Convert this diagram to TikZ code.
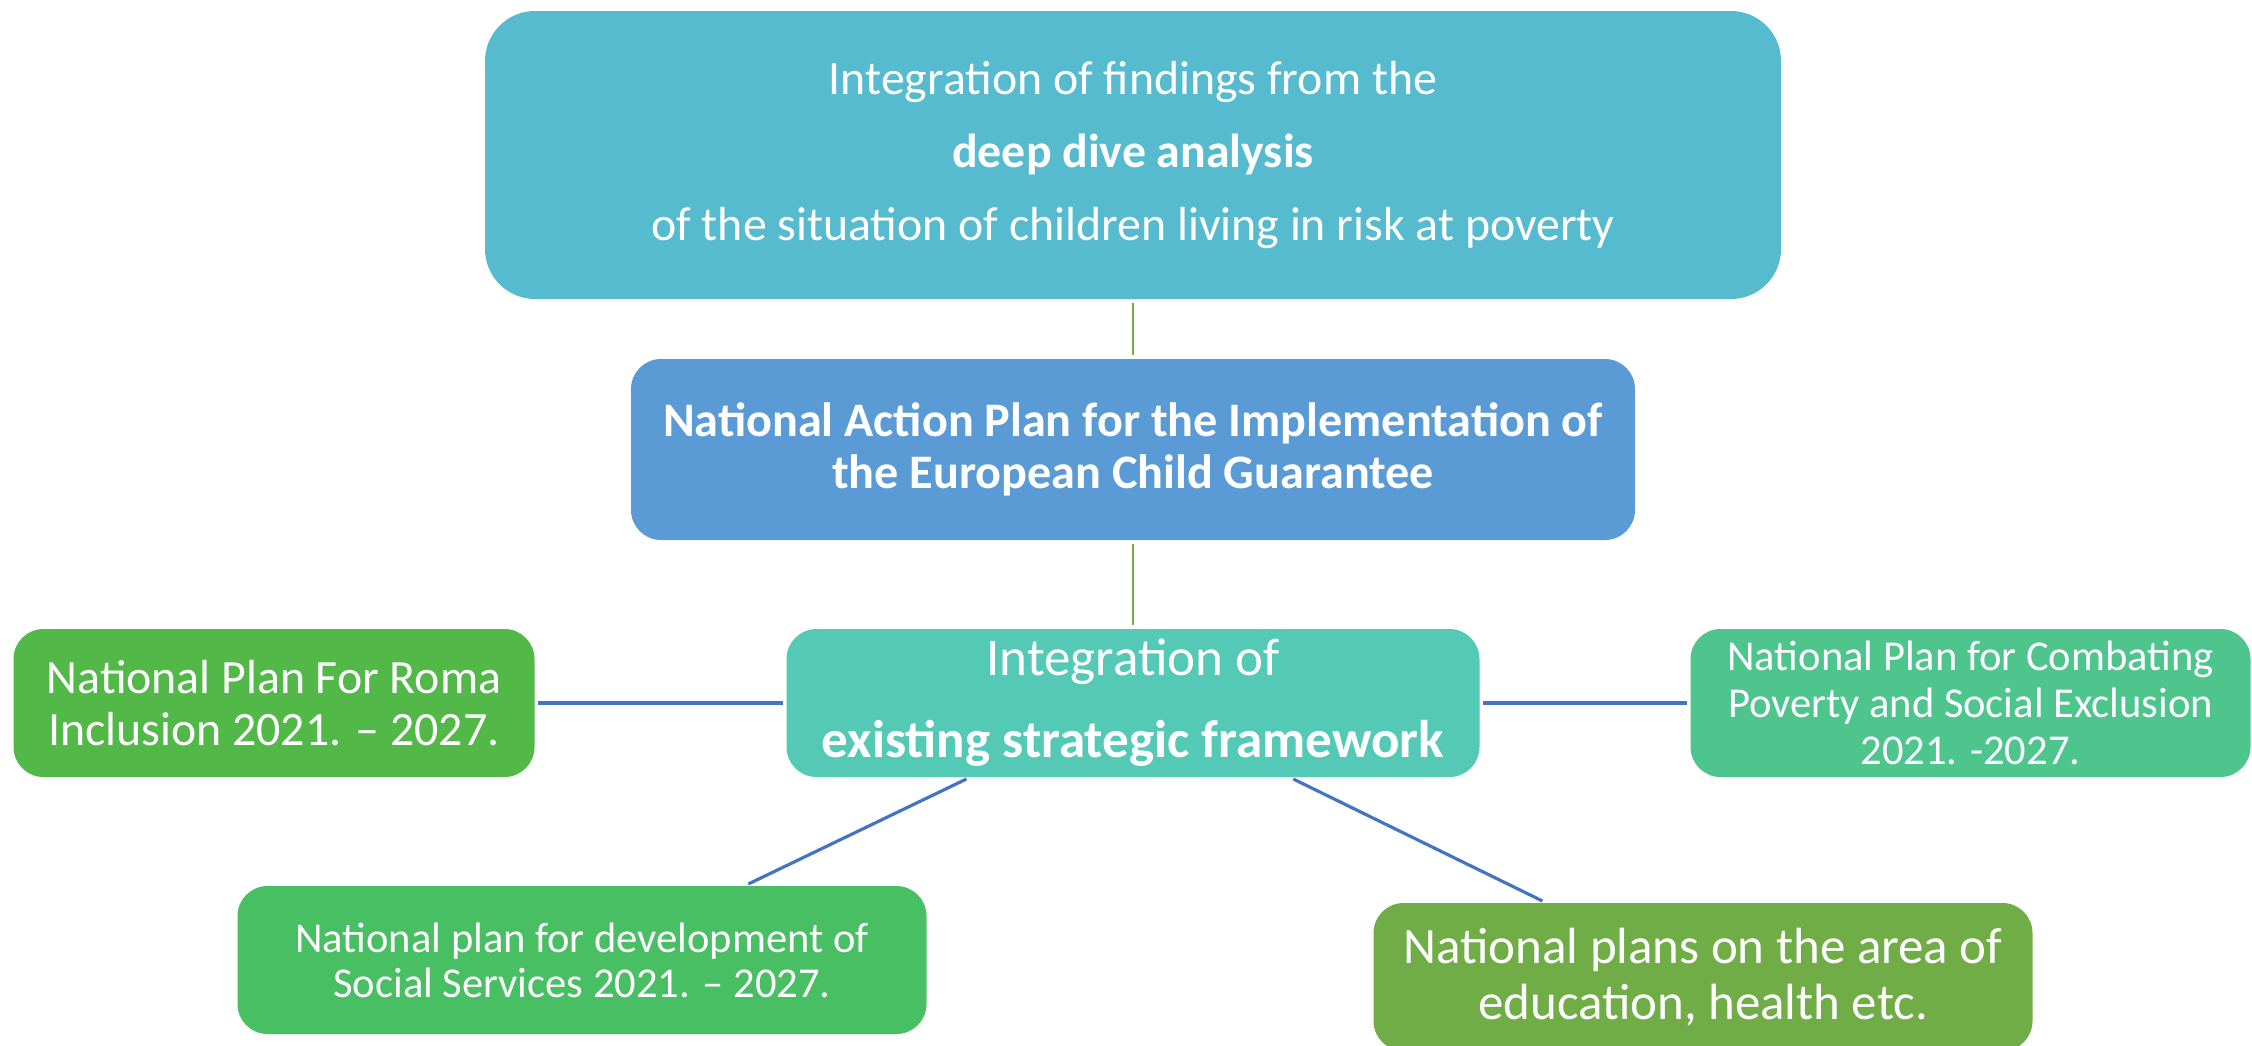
\documentclass[tikz,border=0pt]{standalone}
\usepackage{fontspec}
\setmainfont{Carlito}
\usepackage{tikz}
\usetikzlibrary{calc}
\definecolor{findings-blue}{RGB}{87,187,208}
\definecolor{plan-blue}{RGB}{91,155,213}
\definecolor{frame-teal}{RGB}{83,201,182}
\definecolor{roma-green}{RGB}{82,184,72}
\definecolor{poverty-green}{RGB}{79,197,142}
\definecolor{services-green}{RGB}{73,191,100}
\definecolor{sector-green}{RGB}{112,173,71}
\definecolor{link-green}{RGB}{112,173,71}
\definecolor{link-blue}{RGB}{68,114,196}
\tikzstyle{boxNode}=[rounded corners=0.3cm, text=white, align=center, inner sep=0pt, minimum height=1.48cm]
\tikzstyle{greenLink}=[draw=link-green, line width=0.6pt, shorten <=0.03cm, shorten >=0.03cm]
\tikzstyle{blueLink}=[draw=link-blue, line width=0.9pt, shorten <=0.03cm, shorten >=0.03cm]

\begin{document}
\begin{tikzpicture}
\useasboundingbox (0,0) rectangle (22.52,-10.45);
\node (findings) at (11.33,-1.55) [boxNode, fill=findings-blue, minimum width=12.96cm, minimum height=2.88cm, rounded corners=0.5cm, font=\fontsize{13.6}{20.8}\selectfont] {Integration of findings from the\\ {\bfseries deep dive analysis}\\ of the situation of children living in risk at poverty};
\path (findings)+(0,-2.945) node (actionPlan) [boxNode, fill=plan-blue, minimum width=10.04cm, minimum height=1.81cm, font=\bfseries\fontsize{13.7}{14.9}\selectfont] {National Action Plan for the Implementation of\\ the European Child Guarantee};
\path (actionPlan)+(0,-2.535) node (framework) [boxNode, fill=frame-teal, minimum width=6.93cm, font=\fontsize{15.1}{23.3}\selectfont] {Integration of\\ {\bfseries existing strategic framework}};
\path (framework)+(-8.59,0) node (romaPlan) [boxNode, fill=roma-green, minimum width=5.21cm, font=\fontsize{13.6}{15.0}\selectfont] {National Plan For Roma\\ Inclusion 2021. -- 2027.};
\path (framework)+(8.375,0) node (povertyPlan) [boxNode, fill=poverty-green, minimum width=5.60cm, font=\fontsize{12.1}{13.4}\selectfont] {National Plan for Combating\\ Poverty and Social Exclusion\\ 2021. -2027.};
\path (framework)+(-5.51,-2.57) node (servicesPlan) [boxNode, fill=services-green, minimum width=6.89cm, font=\fontsize{12.1}{12.8}\selectfont] {National plan for development of\\ Social Services 2021. -- 2027.};
\path (framework)+(5.70,-2.74) node (sectorPlans) [boxNode, fill=sector-green, minimum width=6.59cm, font=\fontsize{14.5}{15.8}\selectfont] {National plans on the area of\\ education, health etc.};
\draw[greenLink] (findings) -- (actionPlan);
\draw[greenLink] (actionPlan) -- (framework);
\draw[blueLink] (romaPlan) -- (framework);
\draw[blueLink] (framework) -- (povertyPlan);
\draw[blueLink] ($(framework.south west)!0.264!(framework.south east)$) -- ($(servicesPlan.north west)!0.737!(servicesPlan.north east)$);
\draw[blueLink] ($(framework.south west)!0.727!(framework.south east)$) -- ($(sectorPlans.north west)!0.261!(sectorPlans.north east)$);
\end{tikzpicture}
\end{document}
